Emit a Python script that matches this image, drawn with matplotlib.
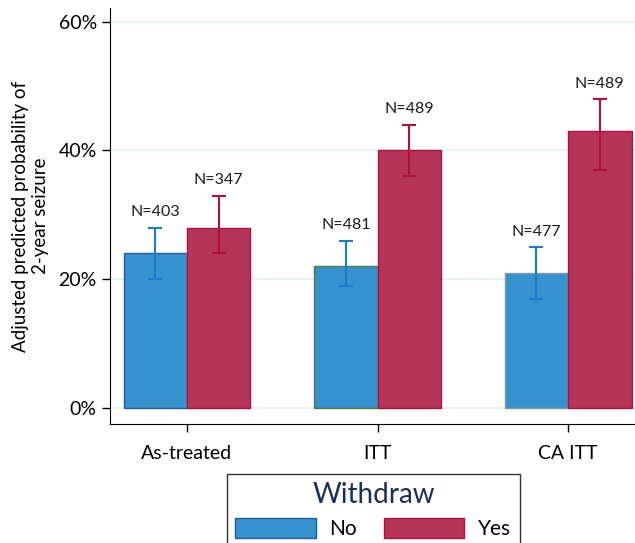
import numpy as np
import matplotlib
matplotlib.use("Agg")
from matplotlib import pyplot as plt
from matplotlib.patches import Patch

plt.rcParams['font.family'] = ['Lato', 'DejaVu Sans']

categories = ["As-treated", "ITT", "CA ITT"]
no_vals = [24, 22, 21]
no_lo = [20, 19, 17]
no_hi = [28, 26, 25]
no_n = [403, 481, 477]
yes_vals = [28, 40, 43]
yes_lo = [24, 36, 37]
yes_hi = [33, 44, 48]
yes_n = [347, 489, 489]

blue = "#3691cf"
red = "#b5355a"
blue_err = "#1a7cc7"
red_err = "#b0103a"
no_edges = ["#1f5c99", "#4e7a3a", "#7f9aa8"]

fig = plt.figure(figsize=(6.35, 5.43), dpi=100)
ax = fig.add_axes([0.1732, 0.219, 0.827, 0.766])

x = np.arange(len(categories))
w = 0.333

for i in range(len(categories)):
    ax.bar(x[i] - w/2, no_vals[i], w, color=blue, edgecolor=no_edges[i], linewidth=1, zorder=2)
    ax.bar(x[i] + w/2, yes_vals[i], w, color=red, edgecolor=red_err, linewidth=1, zorder=2)

ax.errorbar(x - w/2, no_vals, yerr=[np.array(no_vals) - np.array(no_lo), np.array(no_hi) - np.array(no_vals)],
            fmt='none', ecolor=blue_err, elinewidth=1.5, capsize=5, capthick=1.5, zorder=3)
ax.errorbar(x + w/2, yes_vals, yerr=[np.array(yes_vals) - np.array(yes_lo), np.array(yes_hi) - np.array(yes_vals)],
            fmt='none', ecolor=red_err, elinewidth=1.5, capsize=5, capthick=1.5, zorder=3)

for i in range(len(categories)):
    ax.annotate("N=%d" % no_n[i], (x[i] - w/2, no_hi[i]), xytext=(0, 6), textcoords='offset points',
                ha='center', va='bottom', fontsize=11.5, color='#1a1a1a')
    ax.annotate("N=%d" % yes_n[i], (x[i] + w/2, yes_hi[i]), xytext=(0, 6), textcoords='offset points',
                ha='center', va='bottom', fontsize=11.5, color='#1a1a1a')

ax.set_xlim(-0.404, 2.352)
ax.set_ylim(-2.5, 62.1)
ax.set_yticks([0, 20, 40, 60])
ax.set_yticklabels(["0%", "20%", "40%", "60%"])
ax.set_xticks(x)
ax.set_xticklabels(categories)
ax.tick_params(axis='both', labelsize=14, length=6, width=1, colors='black')
ax.tick_params(axis='x', pad=9)
ax.yaxis.grid(True, color='#e6eff1', linewidth=1.2, zorder=0)
ax.set_axisbelow(True)
ax.spines['top'].set_visible(False)
ax.spines['right'].set_visible(False)
ax.set_ylabel("Adjusted predicted probability of\n2-year seizure", fontsize=13.5, labelpad=7)

handles = [Patch(facecolor=blue, edgecolor="#1f5c99", label="No"),
           Patch(facecolor=red, edgecolor=red_err, label="Yes")]
leg = fig.legend(handles=handles, title="Withdraw", loc='upper center', bbox_to_anchor=(0.588, 0.1278),
                 ncol=2, fontsize=15, title_fontsize=20, frameon=True, fancybox=False,
                 handlelength=3.85, handleheight=1.1, handletextpad=0.67, columnspacing=1.3,
                 borderpad=0.4, borderaxespad=0)
leg.get_frame().set_edgecolor('black')
leg.get_frame().set_linewidth(1)
leg.get_title().set_color('#1c2f5a')

fig.savefig("out.png", dpi=100)
